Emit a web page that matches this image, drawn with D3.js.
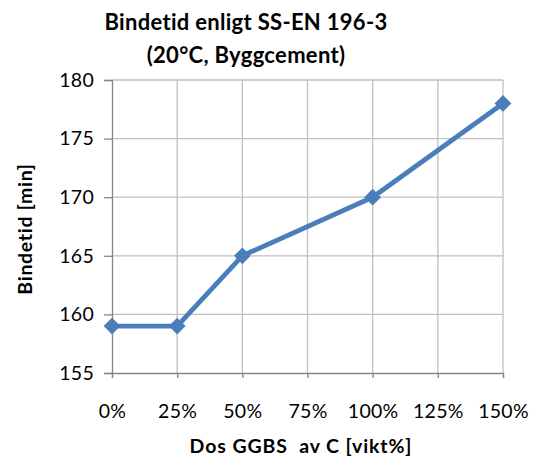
<!DOCTYPE html>
<html>
<head>
<meta charset="utf-8">
<script src="https://cdn.jsdelivr.net/npm/d3@7"></script>
<style>
	body { margin: 0; background: #fff; }
	text { font-family: Lato, "Open Sans", sans-serif; }
</style>
</head>
<body>
<div id="vis"></div>
<script>
// data
const doses = [0, 25, 50, 100, 150];
const setTimes = [159, 159, 165, 170, 178];
const xTicks = [0, 25, 50, 75, 100, 125, 150];
const yTicks = [155, 160, 165, 170, 175, 180];
const titleLines = ["Bindetid enligt SS-EN 196-3", "(20°C, Byggcement)"];
const xTitle = "Dos GGBS  av C [vikt%]";
const yTitle = "Bindetid [min]";

const W = 540;
const H = 457;
const plot = { left: 112, right: 503, top: 80, bottom: 373 };

const svg = d3.select("#vis").append("svg")
	.attr("width", W)
	.attr("height", H);

const x = d3.scaleLinear().domain([0, 150]).range([plot.left, plot.right]);
const y = d3.scaleLinear().domain([155, 180]).range([plot.bottom, plot.top]);

// gridlines
svg.append("g")
	.selectAll("line")
	.data(yTicks.filter(d => d !== 155))
	.join("line")
	.attr("x1", plot.left).attr("x2", plot.right)
	.attr("y1", d => y(d)).attr("y2", d => y(d))
	.attr("stroke", "#c0c0c0").attr("stroke-width", 1.3);

svg.append("g")
	.selectAll("line")
	.data(xTicks.filter(d => d !== 0))
	.join("line")
	.attr("x1", d => x(d)).attr("x2", d => x(d))
	.attr("y1", plot.top).attr("y2", plot.bottom)
	.attr("stroke", "#c0c0c0").attr("stroke-width", 1.3);

// axes
const yAxis = svg.append("g")
	.attr("transform", `translate(${plot.left},0)`)
	.call(d3.axisLeft(y).tickValues(yTicks).tickSize(8).tickPadding(10));
const xAxis = svg.append("g")
	.attr("transform", `translate(0,${plot.bottom})`)
	.call(d3.axisBottom(x).tickValues(xTicks).tickSize(5).tickPadding(26)
		.tickFormat(d => d + "%"));

[xAxis, yAxis].forEach(ax => {
	ax.select(".domain").attr("stroke", "#868686").attr("stroke-width", 1.3);
	ax.selectAll(".tick line").attr("stroke", "#868686").attr("stroke-width", 1.3);
	ax.selectAll(".tick text")
		.attr("fill", "#000")
		.style("font-size", "19.5px")
		.style("letter-spacing", "0.3px")
		.style("font-family", "Lato, sans-serif");
});

// series line
const line = d3.line()
	.x((d, i) => x(doses[i]))
	.y(d => y(d));

svg.append("path")
	.datum(setTimes)
	.attr("d", line)
	.attr("fill", "none")
	.attr("stroke", "#4a7ebb")
	.attr("stroke-width", 4.8)
	.attr("stroke-linejoin", "round");

// diamond markers
svg.append("g")
	.selectAll("path")
	.data(setTimes)
	.join("path")
	.attr("d", d3.symbol().type(d3.symbolDiamond2).size(180))
	.attr("transform", (d, i) => `translate(${x(doses[i])},${y(d)})`)
	.attr("fill", "#4a7ebb");

// titles
svg.append("text")
	.attr("x", 246).attr("y", 30)
	.attr("text-anchor", "middle")
	.style("font-size", "22px").style("font-weight", "bold")
	.style("letter-spacing", "0.3px")
	.text(titleLines[0]);
svg.append("text")
	.attr("x", 246).attr("y", 63)
	.attr("text-anchor", "middle")
	.style("font-size", "22px").style("font-weight", "bold")
	.style("letter-spacing", "0.3px")
	.text(titleLines[1]);

svg.append("text")
	.attr("x", 301).attr("y", 453)
	.attr("text-anchor", "middle")
	.style("font-size", "19.5px").style("font-weight", "bold")
	.style("letter-spacing", "0.9px")
	.style("white-space", "pre")
	.text(xTitle);

svg.append("text")
	.attr("transform", "translate(32,229) rotate(-90)")
	.attr("text-anchor", "middle")
	.style("font-size", "19.5px").style("font-weight", "bold")
	.style("letter-spacing", "0.7px")
	.text(yTitle);
</script>
</body>
</html>
